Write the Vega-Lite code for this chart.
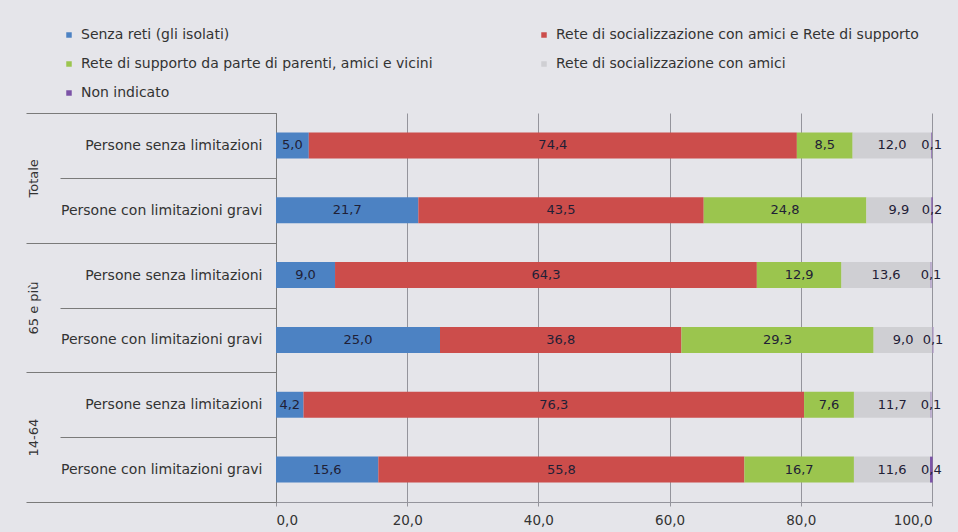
{
  "$schema": "https://vega.github.io/schema/vega-lite/v6.json",
  "autosize": {"type": "none"},
  "padding": {"left": 276, "top": 113, "right": 26, "bottom": 30},
  "width": 656,
  "height": 389,
  "background": "#e5e5ea",
  "config": {
    "view": {"stroke": null},
    "font": "DejaVu Sans",
    "locale": {"number": {"decimal": ",", "thousands": ".", "grouping": [3], "currency": ["€", ""]}},
    "axis": {"labelFont": "DejaVu Sans", "labelColor": "#333333"}
  },
  "datasets": {
    "gruppi": [
      {"gruppo": "Totale"},
      {"gruppo": "65 e più"},
      {"gruppo": "14-64"}
    ],
    "valori": [
      {"chiave": "Totale|Persone senza limitazioni", "tipo": "Senza reti (gli isolati)", "ordine": 1, "valore": 5.0},
      {"chiave": "Totale|Persone senza limitazioni", "tipo": "Rete di socializzazione con amici e Rete di supporto", "ordine": 2, "valore": 74.4},
      {"chiave": "Totale|Persone senza limitazioni", "tipo": "Rete di supporto da parte di parenti, amici e vicini", "ordine": 3, "valore": 8.5},
      {"chiave": "Totale|Persone senza limitazioni", "tipo": "Rete di socializzazione con amici", "ordine": 4, "valore": 12.0},
      {"chiave": "Totale|Persone senza limitazioni", "tipo": "Non indicato", "ordine": 5, "valore": 0.1},
      {"chiave": "Totale|Persone con limitazioni gravi", "tipo": "Senza reti (gli isolati)", "ordine": 1, "valore": 21.7},
      {"chiave": "Totale|Persone con limitazioni gravi", "tipo": "Rete di socializzazione con amici e Rete di supporto", "ordine": 2, "valore": 43.5},
      {"chiave": "Totale|Persone con limitazioni gravi", "tipo": "Rete di supporto da parte di parenti, amici e vicini", "ordine": 3, "valore": 24.8},
      {"chiave": "Totale|Persone con limitazioni gravi", "tipo": "Rete di socializzazione con amici", "ordine": 4, "valore": 9.9},
      {"chiave": "Totale|Persone con limitazioni gravi", "tipo": "Non indicato", "ordine": 5, "valore": 0.2},
      {"chiave": "65 e più|Persone senza limitazioni", "tipo": "Senza reti (gli isolati)", "ordine": 1, "valore": 9.0},
      {"chiave": "65 e più|Persone senza limitazioni", "tipo": "Rete di socializzazione con amici e Rete di supporto", "ordine": 2, "valore": 64.3},
      {"chiave": "65 e più|Persone senza limitazioni", "tipo": "Rete di supporto da parte di parenti, amici e vicini", "ordine": 3, "valore": 12.9},
      {"chiave": "65 e più|Persone senza limitazioni", "tipo": "Rete di socializzazione con amici", "ordine": 4, "valore": 13.6},
      {"chiave": "65 e più|Persone senza limitazioni", "tipo": "Non indicato", "ordine": 5, "valore": 0.1},
      {"chiave": "65 e più|Persone con limitazioni gravi", "tipo": "Senza reti (gli isolati)", "ordine": 1, "valore": 25.0},
      {"chiave": "65 e più|Persone con limitazioni gravi", "tipo": "Rete di socializzazione con amici e Rete di supporto", "ordine": 2, "valore": 36.8},
      {"chiave": "65 e più|Persone con limitazioni gravi", "tipo": "Rete di supporto da parte di parenti, amici e vicini", "ordine": 3, "valore": 29.3},
      {"chiave": "65 e più|Persone con limitazioni gravi", "tipo": "Rete di socializzazione con amici", "ordine": 4, "valore": 9.0},
      {"chiave": "65 e più|Persone con limitazioni gravi", "tipo": "Non indicato", "ordine": 5, "valore": 0.1},
      {"chiave": "14-64|Persone senza limitazioni", "tipo": "Senza reti (gli isolati)", "ordine": 1, "valore": 4.2},
      {"chiave": "14-64|Persone senza limitazioni", "tipo": "Rete di socializzazione con amici e Rete di supporto", "ordine": 2, "valore": 76.3},
      {"chiave": "14-64|Persone senza limitazioni", "tipo": "Rete di supporto da parte di parenti, amici e vicini", "ordine": 3, "valore": 7.6},
      {"chiave": "14-64|Persone senza limitazioni", "tipo": "Rete di socializzazione con amici", "ordine": 4, "valore": 11.7},
      {"chiave": "14-64|Persone senza limitazioni", "tipo": "Non indicato", "ordine": 5, "valore": 0.1},
      {"chiave": "14-64|Persone con limitazioni gravi", "tipo": "Senza reti (gli isolati)", "ordine": 1, "valore": 15.6},
      {"chiave": "14-64|Persone con limitazioni gravi", "tipo": "Rete di socializzazione con amici e Rete di supporto", "ordine": 2, "valore": 55.8},
      {"chiave": "14-64|Persone con limitazioni gravi", "tipo": "Rete di supporto da parte di parenti, amici e vicini", "ordine": 3, "valore": 16.7},
      {"chiave": "14-64|Persone con limitazioni gravi", "tipo": "Rete di socializzazione con amici", "ordine": 4, "valore": 11.6},
      {"chiave": "14-64|Persone con limitazioni gravi", "tipo": "Non indicato", "ordine": 5, "valore": 0.4}
    ]
  },
  "layer": [
    {
      "data": {"name": "valori"},
      "encoding": {
        "y": {
          "field": "chiave",
          "type": "nominal",
          "sort": null,
          "scale": {"paddingInner": 0, "paddingOuter": 0},
          "axis": {
            "title": null,
            "orient": "left",
            "domain": true,
            "domainColor": "#7a7a7a",
            "ticks": true,
            "tickBand": "extent",
            "tickSize": 216,
            "tickColor": "#7a7a7a",
            "labelPadding": -202,
            "labelFontSize": 14,
            "labelLimit": 400,
            "labelExpr": "split(datum.label, '|')[1]"
          }
        }
      },
      "layer": [
        {
          "mark": {"type": "bar", "height": {"band": 0.4}},
          "encoding": {
            "x": {
              "field": "valore",
              "type": "quantitative",
              "stack": "zero",
              "scale": {"domain": [0, 100], "nice": false},
              "axis": {
                "title": null,
                "values": [0, 20, 40, 60, 80, 100],
                "format": ".1f",
                "grid": true,
                "gridColor": "#94949c",
                "domain": true,
                "domainColor": "#94949c",
                "tickColor": "#94949c",
                "tickSize": 4,
                "labelPadding": 7,
                "labelFontSize": 13.5
              }
            },
            "color": {
              "field": "tipo",
              "type": "nominal",
              "scale": {
                "domain": [
                  "Senza reti (gli isolati)",
                  "Rete di socializzazione con amici e Rete di supporto",
                  "Rete di supporto da parte di parenti, amici e vicini",
                  "Rete di socializzazione con amici",
                  "Non indicato"
                ],
                "range": ["#4c82c3", "#cc4d4b", "#9bc54e", "#cfcfd3", "#7b52a6"]
              },
              "legend": {
                "title": null,
                "orient": "none",
                "legendX": -214,
                "legendY": -85,
                "direction": "horizontal",
                "columns": 2,
                "columnPadding": 104,
                "rowPadding": 15,
                "symbolType": "square",
                "symbolSize": 30,
                "symbolStrokeWidth": 0,
                "labelFontSize": 14,
                "labelColor": "#333333",
                "labelLimit": 500,
                "labelOffset": 5
              }
            },
            "order": {"field": "ordine", "type": "quantitative"}
          }
        },
        {
          "mark": {"type": "text", "fontSize": 13, "color": "#1f2036"},
          "encoding": {
            "x": {"field": "valore", "type": "quantitative", "stack": "zero", "bandPosition": 0.5},
            "detail": {"field": "tipo", "type": "nominal"},
            "order": {"field": "ordine", "type": "quantitative"},
            "text": {"field": "valore", "type": "quantitative", "format": ".1f"}
          }
        }
      ]
    },
    {
      "data": {"name": "gruppi"},
      "mark": {"type": "point", "opacity": 0},
      "encoding": {
        "y": {
          "field": "gruppo",
          "type": "nominal",
          "sort": null,
          "scale": {"paddingInner": 0, "paddingOuter": 0},
          "axis": {
            "title": null,
            "orient": "left",
            "domain": false,
            "ticks": true,
            "tickBand": "extent",
            "tickSize": 250,
            "tickColor": "#7a7a7a",
            "labelAngle": -90,
            "labelAlign": "center",
            "labelBaseline": "middle",
            "labelPadding": -7,
            "labelFontSize": 13
          }
        }
      }
    }
  ],
  "resolve": {"scale": {"y": "independent"}, "axis": {"y": "independent"}}
}
